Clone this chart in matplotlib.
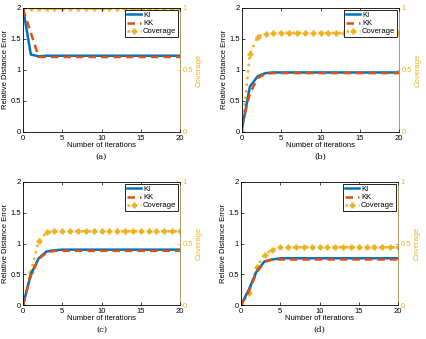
import matplotlib
matplotlib.use("Agg")
import matplotlib.pyplot as plt
import numpy as np

plt.rcParams['font.family'] = ['Liberation Sans', 'DejaVu Sans']

iters = list(range(21))

ki_a = [2.0, 1.25, 1.22] + [1.23] * 18
kk_a = [1.98, 1.6, 1.21] + [1.21] * 18
cov_a = [1.0] * 21

ki_b = [0.05, 0.73, 0.90, 0.95] + [0.96] * 17
kk_b = [0.10, 0.62, 0.87, 0.94] + [0.95] * 17
cov_b = [0.0, 0.63, 0.77, 0.79] + [0.80] * 17

ki_c = [0.0, 0.50, 0.76, 0.87, 0.89] + [0.90] * 16
kk_c = [0.0, 0.48, 0.75, 0.85, 0.88] + [0.88] * 16
cov_c = [0.0, 0.27, 0.52, 0.59] + [0.60] * 17

ki_d = [0.0, 0.25, 0.55, 0.71, 0.74] + [0.76] * 16
kk_d = [0.0, 0.22, 0.53, 0.70, 0.74] + [0.74] * 16
cov_d = [0.0, 0.10, 0.31, 0.41, 0.45] + [0.47] * 16

panels = [
    (ki_a, kk_a, cov_a, "(a)", (23, 8, 180, 132)),
    (ki_b, kk_b, cov_b, "(b)", (242, 8, 399, 132)),
    (ki_c, kk_c, cov_c, "(c)", (23, 182, 180, 305)),
    (ki_d, kk_d, cov_d, "(d)", (241, 182, 398, 305)),
]

W, H = 426, 339
fig = plt.figure(figsize=(W / 100, H / 100), dpi=100)

blue = (0.0, 0.447, 0.741)
orange = (0.85, 0.325, 0.098)
yellow = (0.929, 0.694, 0.125)
spine_r = (0.6, 0.55, 0.3)
fs = 5.5

for ki, kk, cov, cap, (l, t, r, b) in panels:
    ax = fig.add_axes([l / W, 1 - b / H, (r - l) / W, (b - t) / H])
    ax2 = ax.twinx()
    ax.set_zorder(ax2.get_zorder() + 1)
    ax.patch.set_visible(False)
    ax2.plot(iters, cov, linestyle=':', color=yellow, lw=1.8, marker='+',
             ms=5, mew=1.8, label='Coverage')
    l1, = ax.plot(iters, ki, color=blue, lw=1.8, label='KI')
    l2, = ax.plot(iters, kk, color=orange, lw=1.8, ls=(0, (3, 2)), label='KK')
    l3 = ax2.lines[0]
    ax.set_xlim(0, 20)
    ax.set_ylim(0, 2)
    ax2.set_ylim(0, 1)
    ax.set_xticks([0, 5, 10, 15, 20])
    ax.set_yticks([0, 0.5, 1, 1.5, 2])
    ax.set_yticklabels(['0', '0.5', '1', '1.5', '2'])
    ax2.set_yticks([0, 0.5, 1])
    ax2.set_yticklabels(['0', '0.5', '1'])
    ax.tick_params(axis='both', direction='in', labelsize=fs, length=2.5,
                   width=0.5, top=True, pad=1.5)
    ax.tick_params(axis='x', pad=2.2)
    ax2.tick_params(axis='y', direction='in', labelsize=fs, length=2.5,
                    width=0.5, colors=yellow, pad=1.8)
    for s in ax.spines.values():
        s.set_linewidth(0.6)
    ax.spines['right'].set_visible(False)
    for s in ['left', 'top', 'bottom']:
        ax2.spines[s].set_visible(False)
    ax2.spines['right'].set_color(spine_r)
    ax2.spines['right'].set_linewidth(0.6)
    ax.set_xlabel('Number of iterations', fontsize=fs, labelpad=0.3)
    ax.set_ylabel('Relative Distance Error', fontsize=fs, labelpad=1)
    ax2.set_ylabel('Coverage', fontsize=fs, color=yellow, labelpad=2)
    leg = ax.legend([l1, l2, l3], ['KI', 'KK', 'Coverage'], loc='upper right',
                    fontsize=fs, handlelength=1.8, handletextpad=0.3,
                    borderpad=0.2, labelspacing=0.1, borderaxespad=0.3,
                    frameon=True, fancybox=False, framealpha=1)
    leg.get_frame().set_edgecolor('black')
    leg.get_frame().set_linewidth(0.6)
    cx = (l + r) / 2 / W
    fig.text(cx, 1 - (b + 25) / H, cap, ha='center', va='center',
             fontsize=6, family='DejaVu Serif')

fig.savefig('out.png', dpi=100)
